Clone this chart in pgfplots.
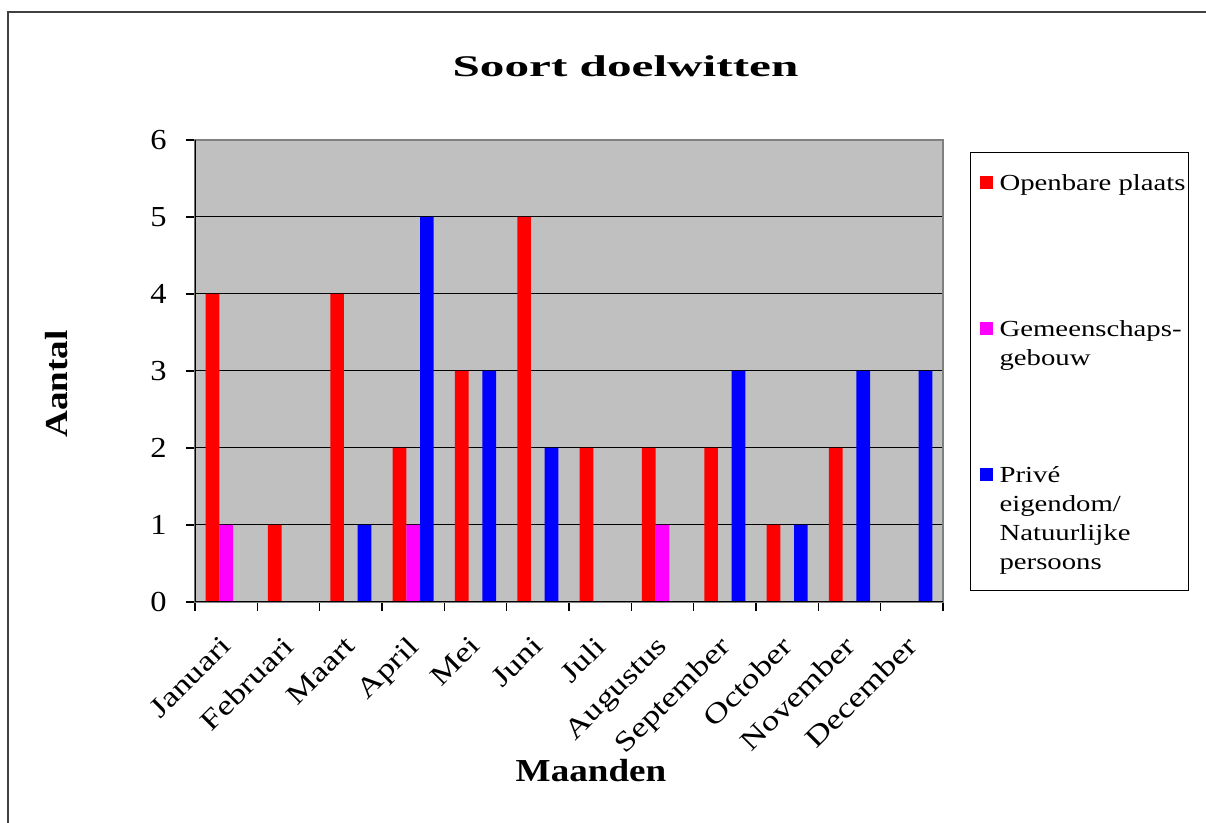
\documentclass[border=0pt]{standalone}
\usepackage{fontspec}
\setmainfont{Liberation Serif}
\newfontfamily\fTitle{Liberation Serif}[FakeStretch=1.64]
\newfontfamily\fLab{Liberation Serif}[FakeStretch=1.16]
\newfontfamily\fYt{Liberation Serif}[FakeStretch=1.12]
\newfontfamily\fXt{Liberation Serif}[FakeStretch=1.25]
\usepackage{pgfplots}
\pgfplotsset{compat=1.18}
\definecolor{plotgray}{HTML}{C0C0C0}
\definecolor{framegray}{HTML}{808080}
\definecolor{cred}{HTML}{FF0000}
\definecolor{cmag}{HTML}{FF00FF}
\definecolor{cblue}{HTML}{0000FF}
\newcommand\xtf{\fXt\fontsize{14pt}{16pt}\selectfont}
\newcommand\ytf{\fYt\fontsize{14.5pt}{17pt}\selectfont}
\newcommand\legf{\fXt\fontsize{11.5pt}{14.4pt}\selectfont}
\begin{document}
\begin{tikzpicture}
\useasboundingbox (-97.5pt,-110.5pt) rectangle (505.5pt,301pt);
\draw[line width=0.8pt, black!75] (-93.5pt,-120pt) -- (-93.5pt,295pt) -- (520pt,295pt);
\begin{axis}[
  at={(0pt,0pt)}, anchor=south west,
  scale only axis, width=374pt, height=231pt,
  xmin=-0.5, xmax=11.5, ymin=0, ymax=6,
  ybar=0pt, bar width=6.85pt,
  legend image code/.code={\path (0pt,0pt) (9.5pt,0pt); \fill[#1,draw=none] (3pt,0.9pt) rectangle (9.5pt,7.2pt);},
  every axis plot post/.append style={legend image code/.code={\path (0pt,0pt) (9.5pt,0pt); \fill[#1,draw=none] (3pt,0.9pt) rectangle (9.5pt,7.2pt);}},
  axis background/.style={fill=plotgray},
  axis line style={framegray, line width=1pt},
  tick pos=left,
  xtick={0,...,11},
  xticklabels={Januari,Februari,Maart,April,Mei,Juni,Juli,Augustus,September,October,November,December},
  every major x tick/.append style={draw=none},
  minor xtick={-0.5,0.5,...,11.5},
  ytick={0,...,6},
  tick align=outside,
  major tick length=4.5pt, minor tick length=4.5pt,
  tick style={black, line width=0.6pt},
  ymajorgrids, grid style={black, line width=0.5pt},
  xticklabel style={font=\xtf, inner sep=0pt, xshift=-3.5pt, yshift=-11.5pt, rotate=45, anchor=north east},
  yticklabel style={font=\ytf, inner sep=0pt, xshift=-9.5pt},
  /pgf/number format/assume math mode=true,
  legend style={at={(1,1)}, anchor=north west, xshift=13.5pt, yshift=-6pt,
    draw=black, line width=0.6pt, fill=white,
    inner xsep=1.5pt, inner ysep=0pt, column sep=3.5pt, row sep=0pt,
    font=\legf, cells={anchor=base west},
    nodes={inner sep=0pt, text height=19pt, text depth=54pt, anchor=base west}},
]
\addplot[fill=cred, draw=none] coordinates {(0,4) (1,1) (2,4) (3,2) (4,3) (5,5) (6,2) (7,2) (8,2) (9,1) (10,2)};
\addlegendentry{Openbare plaats}
\addplot[fill=cmag, draw=none] coordinates {(0,1) (3,1) (7,1)};
\addlegendentry{\begin{tabular}[t]{@{}l@{}}Gemeenschaps-\\gebouw\end{tabular}}
\addplot[fill=cblue, draw=none] coordinates {(2,1) (3,5) (4,3) (5,2) (8,3) (9,1) (10,3) (11,3)};
\addlegendentry{\begin{tabular}[t]{@{}l@{}}Privé\\eigendom/\\Natuurlijke\\persoons\end{tabular}}
\draw[black, line width=0.8pt] (rel axis cs:0,1) -- (rel axis cs:0,0) -- (rel axis cs:1,0);
\end{axis}
\node[anchor=base, inner sep=0pt, font=\fTitle\fontsize{15pt}{18pt}\selectfont\bfseries] at (215.25pt,262.5pt) {Soort doelwitten};
\node[anchor=base, inner sep=0pt, font=\fLab\fontsize{16pt}{19pt}\selectfont\bfseries] at (198pt,-89.85pt) {Maanden};
\node[anchor=base, inner sep=0pt, rotate=90, font=\fLab\fontsize{16pt}{19pt}\selectfont\bfseries] at (-63.5pt,109pt) {Aantal};
\end{tikzpicture}
\end{document}
